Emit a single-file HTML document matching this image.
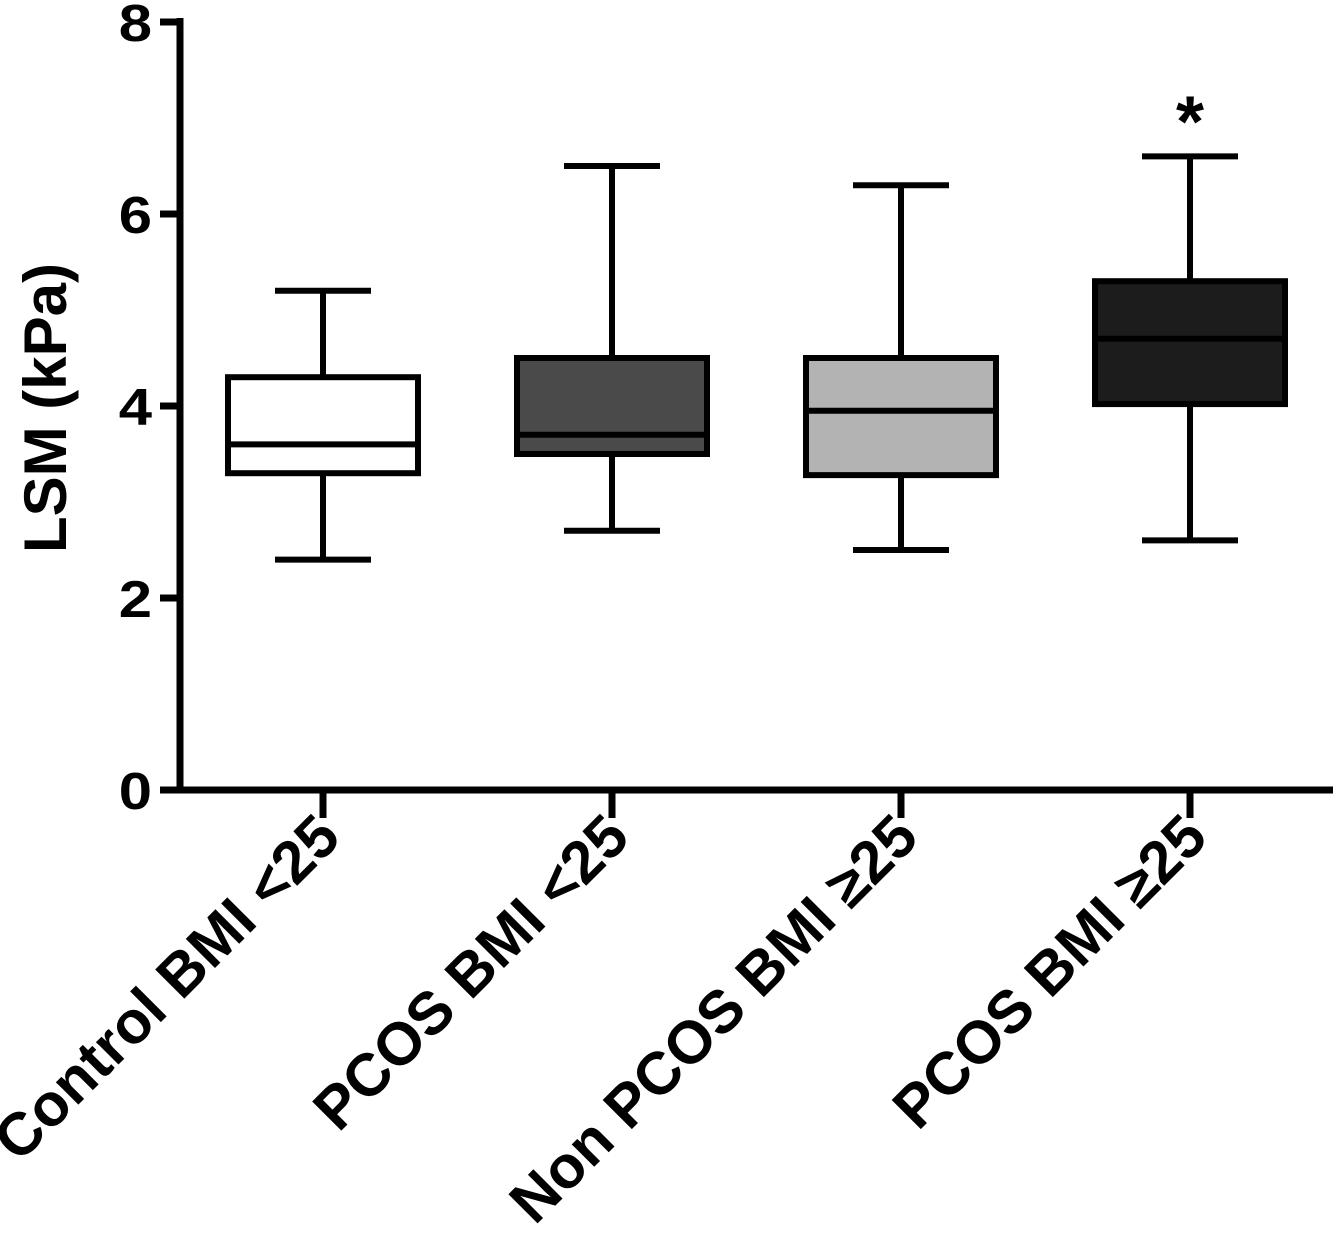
<!DOCTYPE html>
<html><head><meta charset="utf-8"><style>
html,body{margin:0;padding:0;background:#fff}
svg{display:block;font-family:"Liberation Sans",sans-serif;font-weight:bold}
</style></head><body>
<svg id="chart" width="1333" height="1237" viewBox="0 0 1333 1237" xmlns="http://www.w3.org/2000/svg"></svg>
<script>
const categories = ["Control BMI <25","PCOS BMI <25","Non PCOS BMI \u226525","PCOS BMI \u226525"];
const mins = [2.4, 2.7, 2.5, 2.6];
const q1s = [3.3, 3.5, 3.28, 4.02];
const medians = [3.6, 3.7, 3.95, 4.7];
const q3s = [4.3, 4.5, 4.5, 5.3];
const maxs = [5.2, 6.5, 6.3, 6.6];
const fills = ["#ffffff","#4a4a4a","#b3b3b3","#1c1c1c"];
const yTicks = [0,2,4,6,8];
const significant = [false,false,false,true];

const NS="http://www.w3.org/2000/svg";
const svg=document.getElementById('chart');
const y0=790, pxPerUnit=96;
function y(v){return y0-v*pxPerUnit;}
function x(i){return 323+i*289;}
function mk(tag,attrs,parent){const e=document.createElementNS(NS,tag);for(const k in attrs)e.setAttribute(k,attrs[k]);(parent||svg).appendChild(e);return e;}

let e=mk('line',{x1:180,y1:y(8)-4,x2:180,y2:y0+3,stroke:'#000','stroke-width':7});


e=mk('line',{x1:177,y1:y0,x2:1333,y2:y0,stroke:'#000','stroke-width':7});


yTicks.forEach(t=>{
  let l=mk('line',{x1:160,y1:y(t),x2:180,y2:y(t),stroke:'#000','stroke-width':7});
  
  
  let tx=mk('text',{x:0,y:0,transform:`translate(152,${y(t)+19}) scale(1.15,1)`,'text-anchor':'end','font-size':52});
  tx.textContent=t;
  
  
});
e=mk('text',{x:0,y:0,transform:'translate(66,408) rotate(-90)','text-anchor':'middle','font-size':60});
e.textContent='LSM (kPa)';



categories.forEach((c,i)=>{
  const cx=x(i);
  let t=mk('line',{x1:cx,y1:y0,x2:cx,y2:y0+28,stroke:'#000','stroke-width':7});
  
  
  let lab=mk('text',{x:0,y:0,transform:`translate(${cx+20},${y0+50}) rotate(-45)`,'text-anchor':'end','font-size':60});
  lab.textContent=c;
  
  
  const g=mk('g',{stroke:'#000','stroke-width':6,fill:'none'});
  
  
  mk('line',{x1:cx,y1:y(maxs[i]),x2:cx,y2:y(q3s[i])},g);
  mk('line',{x1:cx,y1:y(q1s[i]),x2:cx,y2:y(mins[i])},g);
  mk('line',{x1:cx-48,y1:y(maxs[i]),x2:cx+48,y2:y(maxs[i])},g);
  mk('line',{x1:cx-48,y1:y(mins[i]),x2:cx+48,y2:y(mins[i])},g);
  mk('rect',{x:cx-95,y:y(q3s[i]),width:190,height:y(q1s[i])-y(q3s[i]),fill:fills[i]},g);
  mk('line',{x1:cx-95,y1:y(medians[i]),x2:cx+95,y2:y(medians[i])},g);
  if(significant[i]){
    let s=mk('text',{x:cx,y:y(maxs[i])-10,'text-anchor':'middle','font-size':72});
    s.textContent='*';
    
    
  }
});
</script>
</body></html>
